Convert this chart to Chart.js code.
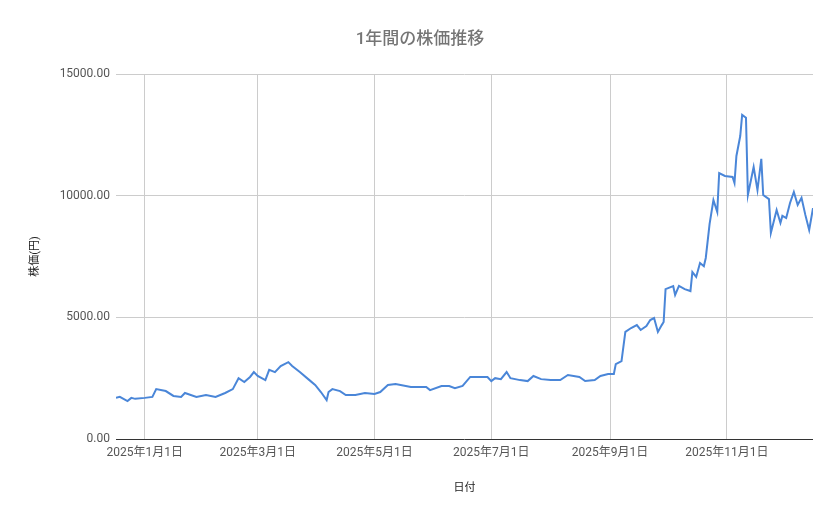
<!DOCTYPE html>
<html><head><meta charset="utf-8">
<script src="https://cdn.jsdelivr.net/npm/chart.js@4"></script>
<style>html,body{margin:0;padding:0;background:#fff}#c{display:block}</style>
</head><body>
<div style="width:839px;height:519px"><canvas id="c"></canvas></div>
<script>
// days counted from 2025-01-01
const days = [-15,-13,-9,-7,-5,0,4,6,11,15,19,21,27,32,37,42,46,49,52,55,57,59,63,65,68,71,75,77,81,86,89,92,95,96,98,102,105,110,115,120,123,127,131,139,147,149,155,159,162,166,170,175,179,181,183,186,189,191,196,200,203,207,212,217,221,227,230,235,238,242,245,246,249,251,254,257,259,262,264,266,268,270,271,272,276,277,279,282,285,286,288,290,292,293,295,297,299,300,303,307,308,309,311,312,314,315,318,320,322,323,326,327,330,332,333,335,337,339,341,343,345,347,349];
const prices = [1690,1730,1560,1690,1650,1690,1730,2050,1970,1770,1730,1890,1730,1810,1730,1890,2050,2500,2340,2550,2750,2590,2420,2840,2750,3000,3160,3000,2750,2420,2220,1930,1600,1930,2050,1970,1810,1810,1890,1850,1930,2220,2260,2140,2140,2010,2180,2180,2090,2180,2550,2550,2550,2380,2500,2460,2750,2500,2420,2380,2590,2460,2420,2420,2630,2550,2380,2420,2590,2670,2670,3080,3200,4400,4560,4680,4480,4640,4890,4970,4400,4680,4810,6160,6280,5920,6290,6160,6080,6860,6660,7230,7100,7440,8840,9820,9330,10930,10810,10770,10520,11630,12450,13320,13200,10030,11180,10230,11510,10030,9860,8470,9410,8880,9170,9080,9700,10150,9620,9910,9210,8590,9490];
const tickDays = [0,59,120,181,243,304];
const tickLabels = ['2025年1月1日','2025年3月1日','2025年5月1日','2025年7月1日','2025年9月1日','2025年11月1日'];
const yTicks = [0,5000,10000,15000];

const font = 'Roboto, "Noto Sans CJK JP", sans-serif';
const textPlugin = {
  id: 'texts',
  afterDraw(chart) {
    const ctx = chart.ctx, a = chart.chartArea;
    ctx.save();
    ctx.fillStyle = '#757575';
    ctx.textAlign = 'center'; ctx.textBaseline = 'middle';
    ctx.font = '500 17px ' + font;
    ctx.fillText('1年間の株価推移', 420, 40);
    ctx.fillStyle = '#222';
    ctx.font = '11px ' + font;
    ctx.fillText('日付', (a.left + a.right) / 2, 488);
    ctx.translate(35, (a.top + a.bottom) / 2);
    ctx.rotate(-Math.PI / 2);
    ctx.fillText('株価(円)', 0, 0);
    ctx.restore();
  }
};

new Chart(document.getElementById('c'), {
  type: 'line',
  data: {
    datasets: [{
      data: days.map((d, i) => ({ x: d, y: prices[i] })),
      borderColor: '#4a86d8',
      borderWidth: 2,
      pointRadius: 0,
      tension: 0,
      fill: false
    }]
  },
  options: {
    responsive: true, maintainAspectRatio: false, animation: false,
    layout: { padding: { top: 74, right: 26, left: 0, bottom: 0 } },
    plugins: { legend: { display: false }, tooltip: { enabled: false } },
    scales: {
      x: {
        type: 'linear', min: -15, max: 349,
        afterBuildTicks: s => { s.ticks = tickDays.map(v => ({ value: v })); },
        afterFit: s => { s.height = 80; },
        ticks: {
          callback: v => tickLabels[tickDays.indexOf(v)],
          color: '#555', font: { size: 12, family: font }, maxRotation: 0, padding: 7
        },
        grid: { color: '#cccccc', drawTicks: false },
        border: { display: false }
      },
      y: {
        min: 0, max: 15000,
        afterBuildTicks: s => { s.ticks = yTicks.map(v => ({ value: v })); },
        afterFit: s => { s.width = 116; },
        ticks: {
          callback: v => v.toFixed(2),
          color: '#555', font: { size: 12, family: font }, padding: 6
        },
        grid: { color: c => c.tick && c.tick.value === 0 ? '#333333' : '#cccccc', drawTicks: false },
        border: { display: false }
      }
    }
  },
  plugins: [textPlugin]
});
</script>
</body></html>
